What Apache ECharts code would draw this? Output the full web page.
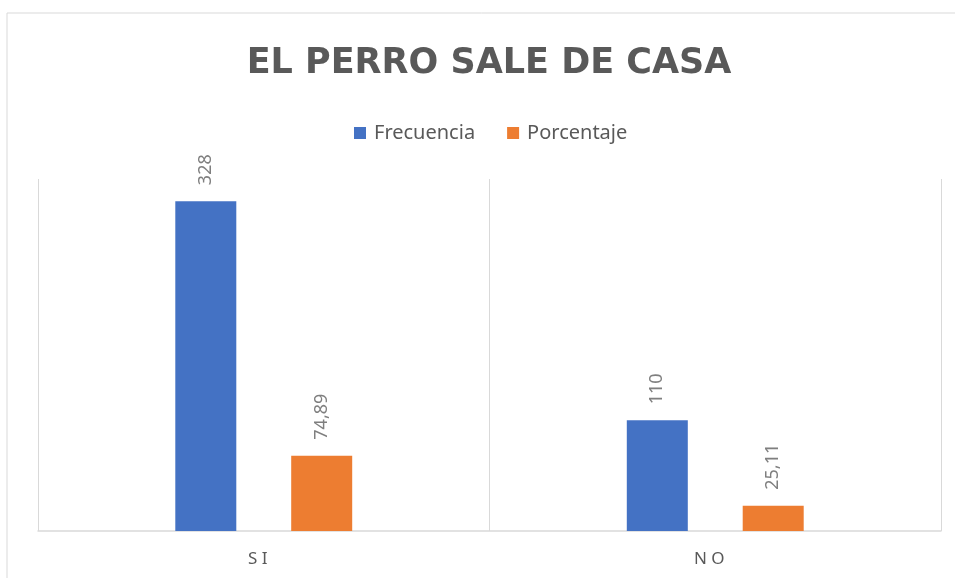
<!DOCTYPE html>
<html>
<head>
<meta charset="utf-8">
<script src="https://cdn.jsdelivr.net/npm/echarts@6/dist/echarts.min.js"></script>
<style>
  html, body { margin: 0; padding: 0; background: #fff; }
  #main { width: 955px; height: 578px; }
</style>
</head>
<body>
<div id="main"></div>
<script>
// datos
var categorias = ['SI', 'NO'];
var frecuencia = [328, 110];
var porcentaje = [74.89, 25.11];

var chart = echarts.init(document.getElementById('main'));

// etiqueta con coma decimal
function etiqueta(p) {
  return String(p.value).replace('.', ',');
}

var labelComun = {
  show: true,
  position: 'top',
  rotate: 90,
  align: 'left',
  verticalAlign: 'middle',
  distance: 16,
  color: '#7f7f7f',
  fontFamily: 'Noto Sans',
  fontSize: 18,
  formatter: etiqueta
};

chart.setOption({
  animation: false,
  title: {
    text: 'EL PERRO SALE DE CASA',
    left: 484,
    textAlign: 'center',
    top: 41,
    textStyle: {
      color: '#595959',
      fontFamily: 'DejaVu Sans',
      fontWeight: 'bold',
      fontSize: 35
    }
  },
  legend: {
    top: 118,
    left: 349,
    itemWidth: 12,
    itemHeight: 12,
    itemGap: 32,
    icon: 'rect',
    textStyle: {
      color: '#595959',
      fontFamily: 'Noto Sans',
      fontSize: 20,
      padding: [0, 0, 0, 3]
    },
    data: ['Frecuencia', 'Porcentaje']
  },
  grid: {
    left: 38,
    right: 14,
    top: 179,
    bottom: 47
  },
  graphic: [{
    type: 'rect',
    shape: { x: 7, y: 13, width: 960, height: 580 },
    style: { fill: 'none', stroke: '#d9d9d9', lineWidth: 1 },
    silent: true
  }],
  xAxis: {
    type: 'category',
    data: categorias,
    axisLine: { lineStyle: { color: '#d9d9d9', width: 1.5 } },
    axisTick: { show: false },
    splitLine: { show: true, lineStyle: { color: '#d9d9d9' } },
    axisLabel: {
      margin: 20,
      color: '#595959',
      fontFamily: 'Noto Sans',
      fontSize: 17,
      padding: [0, 12, 0, 0],
      formatter: function (v) { return v.split('').join(' '); }
    }
  },
  yAxis: {
    type: 'value',
    min: 0,
    max: 350,
    show: false,
    splitLine: { show: false }
  },
  series: [
    {
      name: 'Frecuencia',
      type: 'bar',
      data: frecuencia,
      barWidth: 61,
      barGap: '90%',
      itemStyle: { color: '#4472c4' },
      label: labelComun
    },
    {
      name: 'Porcentaje',
      type: 'bar',
      data: porcentaje,
      barWidth: 61,
      itemStyle: { color: '#ed7d31' },
      label: labelComun
    }
  ]
});
</script>
</body>
</html>
